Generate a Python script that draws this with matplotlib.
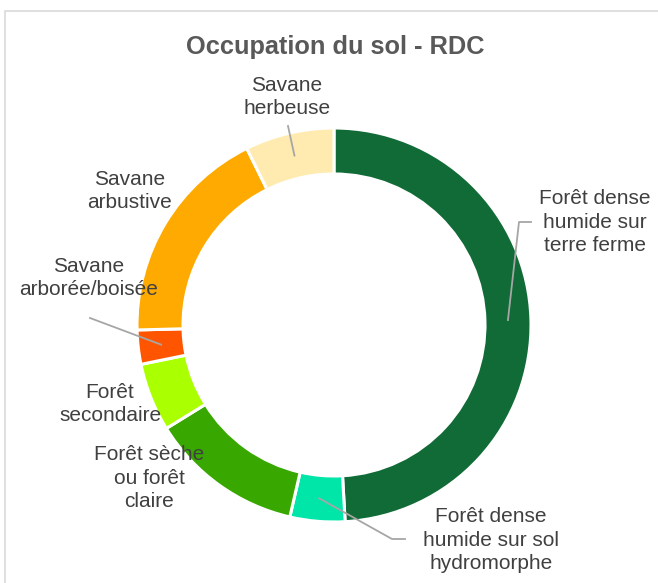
import numpy as np
import matplotlib
matplotlib.use("Agg")
import matplotlib.pyplot as plt

plt.rcParams['font.family'] = ['Liberation Sans', 'DejaVu Sans']

# données (parts en %), sens horaire depuis le haut
categories = ["Forêt dense\nhumide sur\nterre ferme",
              "Forêt dense\nhumide sur sol\nhydromorphe",
              "Forêt sèche\nou forêt\nclaire",
              "Forêt\nsecondaire",
              "Savane\narborée/boisée",
              "Savane\narbustive",
              "Savane\nherbeuse"]
valeurs = [49.1, 4.5, 12.6, 5.6, 2.8, 18.1, 7.3]
couleurs = ["#106B37", "#00E6A9", "#38A800", "#AAFF00", "#FF5500", "#FFAA00", "#FFEBAF"]

W, H = 658, 583
cx, cy, R = 334, H - 325, 197
largeur = 46

fig = plt.figure(figsize=(W / 100, H / 100), dpi=100)
ax = fig.add_axes([0, 0, 1, 1])
ax.pie(valeurs, colors=couleurs, startangle=90, counterclock=False,
       center=(cx, cy), radius=R, frame=True,
       wedgeprops=dict(width=largeur, edgecolor="white", linewidth=2.2))
ax.set_xlim(0, W)
ax.set_ylim(0, H)
ax.set_aspect("equal")
ax.axis("off")

# cadre du graphique
ax.plot([5, 5, W], [0, H - 11, H - 11], color="#D9D9D9", lw=1.2, clip_on=False)

ax.text(335, H - 47, "Occupation du sol - RDC", ha="center", va="center",
        fontsize=18.3, fontweight="bold", color="#595959")

# positions des étiquettes (px depuis le haut)
pos_etiq = [(595, 222), (491, 540), (149, 478), (110, 404), (89, 278), (130, 191), (287, 97)]
# coudes des lignes de rappel (None = pas de ligne)
coudes = [[(519, 222), (531, 222)],
          [(392, 539), (405, 539)],
          None, None,
          [(90, 318)],
          None,
          [(288, 126)]]

cum = np.cumsum([0] + valeurs)
r_mid = R - largeur / 2
for i, lab in enumerate(categories):
    x, y = pos_etiq[i]
    ax.text(x, H - y, lab, ha="center", va="center", fontsize=15,
            color="#404040", linespacing=1.3)
    if coudes[i] is not None:
        a = np.deg2rad(90 - 3.6 * (cum[i] + cum[i + 1]) / 2)
        xs = [cx + r_mid * np.cos(a)] + [p[0] for p in coudes[i]]
        ys = [cy + r_mid * np.sin(a)] + [H - p[1] for p in coudes[i]]
        ax.plot(xs, ys, color="#A6A6A6", lw=1.3)

fig.savefig("out.png", dpi=100)
